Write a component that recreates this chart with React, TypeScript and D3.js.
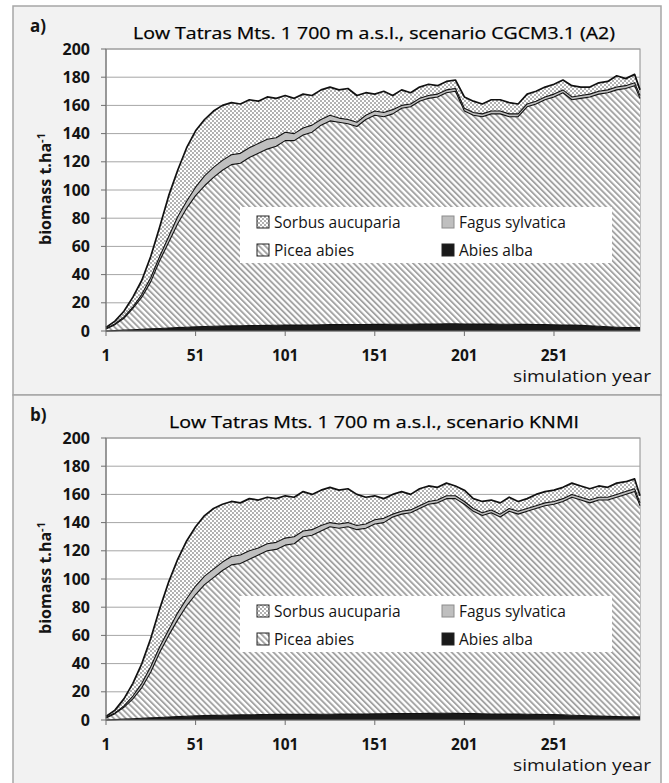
import * as d3 from 'd3';

// simulation years (sampled every 5 years)
const years = [
  1, 6, 11, 16, 21, 26, 31, 36, 41, 46,
  51, 56, 61, 66, 71, 76, 81, 86, 91, 96,
  101, 106, 111, 116, 121, 126, 131, 136, 141, 146,
  151, 156, 161, 166, 171, 176, 181, 186, 191, 196,
  201, 206, 211, 216, 221, 226, 231, 236, 241, 246,
  251, 256, 261, 266, 271, 276, 281, 286, 291, 296,
  299,
];

const yTicks = [0, 20, 40, 60, 80, 100, 120, 140, 160, 180, 200];
const xTicks = [1, 51, 101, 151, 201, 251];

// a) scenario CGCM3.1 (A2), biomass t/ha per species
const abiesA = [
  0, 0.3, 0.6, 0.9, 1.2, 1.5, 1.8, 2.1, 2.4, 2.7,
  3.0, 3.2, 3.4, 3.5, 3.6, 3.7, 3.8, 3.9, 4.0, 4.1,
  4.2, 4.2, 4.3, 4.3, 4.4, 4.5, 4.5, 4.5, 4.6, 4.6,
  4.7, 4.7, 4.8, 4.8, 4.8, 4.9, 5.0, 5.0, 5.1, 5.1,
  5.0, 5.0, 4.9, 4.9, 4.8, 4.8, 4.7, 4.7, 4.6, 4.5,
  4.4, 4.3, 4.2, 4.0, 3.7, 3.4, 3.0, 2.7, 2.5, 2.4,
  2.4,
];
const piceaA = [
  1.5, 4.2, 8.4, 15.1, 22.8, 33.5, 48.2, 60.9, 73.6, 84.3,
  93, 99.8, 105.6, 110.5, 114.4, 115.3, 119.2, 122.1, 125, 126.9,
  130.8, 130.8, 134.7, 136.7, 141.6, 144.5, 143.5, 142.5, 140.4, 145.4,
  148.3, 147.3, 149.2, 153.2, 154.2, 158.1, 160, 161, 163.9, 164.9,
  151, 148, 147.1, 149.1, 149.2, 147.2, 147.3, 154.3, 156.4, 159.5,
  161.6, 164.7, 159.8, 161, 162.3, 164.6, 166, 168.3, 169.5, 171.6,
  162.6,
];
const fagusA = [
  0.3, 0.5, 1, 1, 2, 3, 3, 4, 5, 5,
  6, 7, 7, 7, 7, 7, 7, 7, 7, 6,
  6, 5, 5, 5, 4, 4, 3, 3, 3, 3,
  3, 3, 3, 2, 2, 2, 2, 2, 2, 2,
  2, 2, 2, 2, 2, 2, 2, 2, 2, 2,
  2, 2, 2, 2, 2, 2, 2, 2, 2, 2,
  2,
];
const sorbusA = [
  0.7, 2, 4, 7, 10, 15, 21, 29, 33, 38,
  40, 40, 40, 39, 37, 35, 34, 30, 30, 28,
  26, 25, 24, 21, 21, 20, 20, 22, 19, 16,
  12, 15, 10, 11, 8, 8, 8, 6, 6, 6,
  8, 8, 7, 8, 8, 8, 7, 7, 7, 7,
  7, 7, 8, 6, 5, 6, 6, 8, 5, 6,
  4,
];

// b) scenario KNMI
const abiesB = [
  0, 0.3, 0.6, 0.9, 1.2, 1.5, 1.8, 2.1, 2.4, 2.7,
  2.9, 3.1, 3.3, 3.4, 3.5, 3.6, 3.7, 3.8, 3.9, 4.0,
  4.0, 4.0, 4.0, 4.0, 4.1, 4.1, 4.2, 4.2, 4.3, 4.3,
  4.4, 4.4, 4.5, 4.5, 4.6, 4.6, 4.7, 4.8, 4.8, 4.7,
  4.6, 4.5, 4.4, 4.3, 4.3, 4.2, 4.2, 4.1, 4.0, 3.9,
  3.8, 3.6, 3.4, 3.2, 3.0, 2.8, 2.6, 2.4, 2.3, 2.3,
  2.3,
];
const piceaB = [
  1.5, 4.2, 8.4, 14.1, 21.8, 32.5, 46.2, 57.9, 68.6, 78.3,
  86.1, 92.9, 97.7, 102.6, 106.5, 107.4, 110.3, 113.2, 116.1, 117,
  120, 121, 126, 127, 129.9, 132.9, 131.8, 132.8, 130.7, 131.7,
  134.6, 135.6, 139.5, 141.5, 142.4, 145.4, 148.3, 149.2, 152.2, 152.3,
  148.4, 143.5, 140.6, 142.7, 139.7, 143.8, 141.8, 143.9, 146, 148.1,
  149.2, 151.4, 154.6, 152.8, 151, 153.2, 153.4, 155.6, 157.7, 159.7,
  149.7,
];
const fagusB = [
  0.3, 0.5, 1, 2, 3, 4, 4, 4, 5, 5,
  6, 6, 6, 6, 6, 6, 6, 5, 5, 5,
  5, 5, 4, 4, 4, 3, 3, 3, 3, 3,
  3, 3, 2, 2, 2, 2, 2, 2, 2, 2,
  2, 2, 2, 2, 2, 2, 2, 2, 2, 2,
  2, 2, 2, 2, 2, 2, 2, 2, 2, 2,
  2,
];
const sorbusB = [
  0.7, 2, 5, 9, 14, 20, 27, 34, 38, 41,
  42, 43, 43, 41, 39, 37, 37, 34, 33, 31,
  30, 28, 28, 25, 25, 25, 24, 24, 22, 19,
  17, 14, 14, 14, 11, 12, 11, 9, 9, 7,
  8, 7, 8, 7, 8, 8, 7, 7, 8, 8,
  8, 8, 8, 8, 8, 8, 7, 8, 7, 7,
  5,
];

const keys = ['abies', 'picea', 'fagus', 'sorbus'];
const fills: Record<string, string> = {
  abies: '#1a1a1a',
  picea: 'url(#hatch)',
  fagus: '#bfbfbf',
  sorbus: 'url(#dots)',
};

const FONT = "'Open Sans', 'DejaVu Sans', sans-serif";
const INK = '#141414';
const PANEL_H = 389;

interface PanelProps {
  top: number;
  label: string;
  title: string;
  titleLen: number;
  abies: number[];
  picea: number[];
  fagus: number[];
  sorbus: number[];
}

function Panel({ top, label, title, titleLen, abies, picea, fagus, sorbus }: PanelProps) {
  const x = d3.scaleLinear().domain([1, 299]).range([106, 640]);
  const y = d3.scaleLinear().domain([0, 200]).range([top + 325, top + 43]);

  const rows = years.map((yr, i) => ({
    year: yr,
    abies: abies[i],
    picea: picea[i],
    fagus: fagus[i],
    sorbus: sorbus[i],
  }));
  const series = d3.stack<any>().keys(keys)(rows);

  const area = d3.area<any>()
    .x((d) => x(d.data.year))
    .y0((d) => y(d[0]))
    .y1((d) => y(d[1]));
  const line = d3.line<any>()
    .x((d) => x(d.data.year))
    .y((d) => y(d[1]));

  const legend = [
    { key: 'sorbus', name: 'Sorbus aucuparia', col: 0, row: 0 },
    { key: 'fagus', name: 'Fagus sylvatica', col: 1, row: 0 },
    { key: 'picea', name: 'Picea abies', col: 0, row: 1 },
    { key: 'abies', name: 'Abies alba', col: 1, row: 1 },
  ];
  const colX = [257, 442];

  return (
    <g>
      <rect x={13} y={top} width={648} height={PANEL_H} fill="#f2f2f2" stroke="#a6a6a6" strokeWidth={1.5} />
      <rect x={106} y={top + 43} width={534} height={282} fill="#fff" stroke="#8c8c8c" />

      {yTicks.slice(1).map((t) => (
        <line key={t} x1={106} x2={640} y1={y(t)} y2={y(t)} stroke="#a6a6a6" />
      ))}

      {series.map((s) => (
        <path key={s.key} d={area(s) ?? ''} fill={fills[s.key]} />
      ))}
      {series.map((s, i) => (
        <path
          key={'l' + s.key}
          d={line(s) ?? ''}
          fill="none"
          stroke="#111"
          strokeWidth={i === series.length - 1 ? 1.7 : 1.1}
          strokeLinejoin="round"
        />
      ))}

      {/* legend */}
      <rect x={240} y={top + 201} width={372} height={56} fill="#fff" />
      {legend.map((l) => {
        const cy = top + 216 + l.row * 28;
        return (
          <g key={l.key}>
            <rect x={colX[l.col]} y={cy - 6} width={12} height={12} fill={fills[l.key]}
              stroke={l.key === 'fagus' ? '#8c8c8c' : '#222'} />
            <text x={colX[l.col] + 17} y={cy + 5.5} fontSize={15.5} fontFamily={FONT} fill={INK}>
              {l.name}
            </text>
          </g>
        );
      })}

      {/* axes */}
      <line x1={106} x2={106} y1={top + 43} y2={top + 325} stroke="#6e6e6e" />
      <line x1={106} x2={640} y1={top + 325} y2={top + 325} stroke="#6e6e6e" />
      {yTicks.map((t) => (
        <g key={'yt' + t}>
          <line x1={101} x2={106} y1={y(t)} y2={y(t)} stroke="#6e6e6e" />
          <text x={90} y={y(t) + 5.6} textAnchor="end" fontSize={16} fontWeight={700}
            fontFamily={FONT} fill={INK}>{t}</text>
        </g>
      ))}
      {xTicks.map((t) => (
        <g key={'xt' + t}>
          <line x1={x(t)} x2={x(t)} y1={top + 325} y2={top + 330} stroke="#6e6e6e" />
          <text x={x(t)} y={top + 355} textAnchor="middle" fontSize={15.5} fontWeight={700}
            fontFamily={FONT} fill={INK}>{t}</text>
        </g>
      ))}

      <text x={651} y={top + 376} textAnchor="end" fontSize={17} fontFamily={FONT} fill={INK}
        textLength={138} lengthAdjust="spacingAndGlyphs">simulation year</text>

      <text transform={`translate(51,${top + 183}) rotate(-90)`} textAnchor="middle" fontSize={16}
        fontWeight={700} fontFamily={FONT} fill={INK}>
        biomass t.ha<tspan fontSize={11} dy={-6}>-1</tspan>
      </text>

      <text x={30} y={top + 26} fontSize={17} fontWeight={700} fontFamily={FONT} fill={INK}>{label}</text>
      <text x={374} y={top + 33} textAnchor="middle" fontSize={16.5} fontFamily={FONT} fill="#000"
        stroke="#000" strokeWidth={0.25} textLength={titleLen} lengthAdjust="spacingAndGlyphs">{title}</text>
    </g>
  );
}

export default function App() {
  return (
    <svg width={669} height={783} style={{ position: 'absolute', left: 0, top: 0, background: '#fff' }}>
      <defs>
        <pattern id="hatch" patternUnits="userSpaceOnUse" width={4.2} height={4.2} patternTransform="rotate(-45)">
          <rect width={4.2} height={4.2} fill="#fff" />
          <rect width={1.9} height={4.2} fill="#a3a3a3" />
        </pattern>
        <pattern id="dots" patternUnits="userSpaceOnUse" width={4} height={4}>
          <rect width={4} height={4} fill="#fff" />
          <circle cx={1} cy={1} r={0.72} fill="#3c3c3c" />
          <circle cx={3} cy={3} r={0.72} fill="#3c3c3c" />
        </pattern>
      </defs>
      <Panel top={6} label="a)" title="Low Tatras Mts. 1 700 m a.s.l., scenario CGCM3.1 (A2)" titleLen={482}
        abies={abiesA} picea={piceaA} fagus={fagusA} sorbus={sorbusA} />
      <Panel top={6 + PANEL_H} label="b)" title="Low Tatras Mts. 1 700 m a.s.l., scenario KNMI" titleLen={410}
        abies={abiesB} picea={piceaB} fagus={fagusB} sorbus={sorbusB} />
    </svg>
  );
}
